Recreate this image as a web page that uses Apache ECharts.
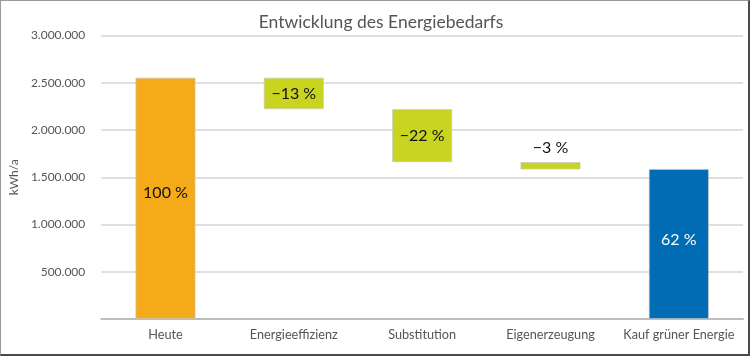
<!DOCTYPE html>
<html><head><meta charset="utf-8">
<script src="https://cdn.jsdelivr.net/npm/echarts@6/dist/echarts.min.js"></script>
<style>
html,body{margin:0;padding:0;background:#fff;}
#frame{position:absolute;left:0;top:0;width:747px;height:353px;border-left:1px solid #9a9a9a;border-top:1px solid #9a9a9a;border-right:2px solid #4a4a4a;border-bottom:2px solid #4a4a4a;}
#c{position:absolute;left:0;top:0;width:750px;height:356px;}
</style></head>
<body><div id="frame"></div><div id="c"></div>
<script>
const categories = ['Heute','Energieeffizienz','Substitution','Eigenerzeugung','Kauf grüner Energie'];
const baseValues = [0, 2220000, 1660000, 1583000, 0];
const visibleValues = [2553000, 333000, 560000, 77000, 1587000];
const labels = ['100 %','\u221213 %','\u221222 %','\u22123 %','62 %'];
const colors = ['#F5AA19','#C8D41F','#C8D41F','#C8D41F','#006CB4'];
const yTicks = [0, 500000, 1000000, 1500000, 2000000, 2500000, 3000000];

const fmt = v => v === 0 ? '' : String(v).replace(/\B(?=(\d{3})+(?!\d))/g, '.');
const chart = echarts.init(document.getElementById('c'), null, {renderer:'canvas'});
chart.setOption({
  animation:false,
  textStyle:{fontFamily:'Lato'},
  title:{text:'Entwicklung des Energiebedarfs',left:376,top:8,textAlign:'center',
    textStyle:{fontFamily:'Lato',fontSize:17.5,fontWeight:'normal',color:'#555'}},
  grid:{left:101,right:7,top:35.5,bottom:37},
  xAxis:{type:'category',data:categories,
    axisLine:{lineStyle:{color:'#bdbdbd',width:2}},axisTick:{show:false},
    axisLabel:{interval:0,color:'#555',fontSize:12.7,margin:9,fontFamily:'Lato'}},
  yAxis:{type:'value',min:yTicks[0],max:yTicks[yTicks.length-1],interval:500000,
    name:'kWh/a',nameLocation:'middle',nameGap:80,nameRotate:90,
    nameTextStyle:{color:'#555',fontSize:12,fontFamily:'Lato'},
    axisLine:{show:false},axisTick:{show:false},
    splitLine:{lineStyle:{color:'#d4d4d4',width:1.5}},
    axisLabel:{color:'#555',fontSize:12,margin:16,formatter:fmt,fontFamily:'Lato'}},
  series:[
    {type:'bar',stack:'w',data:baseValues,barWidth:60,itemStyle:{color:'transparent'},silent:true},
    {type:'bar',stack:'w',barWidth:60,
      data:visibleValues.map((v,i)=>({value:v,
        itemStyle:{color:colors[i],borderColor:'rgba(200,200,200,0.8)',borderWidth:0.8},
        label:{show:true,formatter:labels[i],
          position: i===3 ? 'top' : 'inside',
          distance: 6,
          offset: i===0 ? [0,-6] : (i===4 ? [0,-4] : [0,0]),
          color: i===4 ? '#fff' : '#111',fontSize:16,fontFamily:'Lato'}}))}
  ]
});
</script></body></html>
